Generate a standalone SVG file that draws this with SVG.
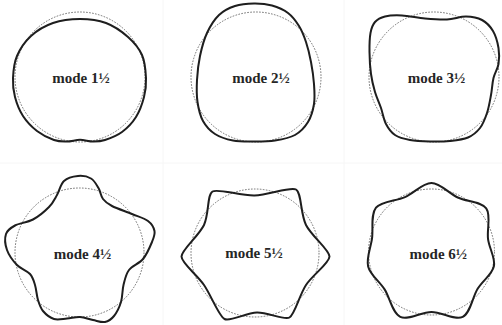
<svg xmlns="http://www.w3.org/2000/svg" width="502" height="325" viewBox="0 0 502 325">
<style>
.grid{stroke:#f6f6f6;stroke-width:1;fill:none}
.ref{fill:none;stroke:#707070;stroke-width:1;stroke-dasharray:1.6 1.4}
.mode{fill:none;stroke:#1e1e1e;stroke-width:2;stroke-linejoin:round}
.lbl{font-family:"Liberation Serif","Times New Roman",serif;font-weight:bold;font-size:15px;fill:#262626;text-anchor:middle}
</style>
<rect width="502" height="325" fill="#ffffff"/>
<g id="grid">
<line class="grid" x1="163" y1="0" x2="163" y2="325"/>
<line class="grid" x1="344" y1="0" x2="344" y2="325"/>
<line class="grid" x1="0" y1="163" x2="502" y2="163"/>
</g>
<g id="mode1">
<circle class="ref" cx="80" cy="77" r="65"/>
<path class="mode" d="M80,19 C88.83,19 98,20 106,23 S122,31.67 128,37 S139,48.17 142,55 S145.67,71 146,78 S145.67,90.5 144,97 S139.67,111.17 136,117 S127.17,128.17 122,132 S109.83,138.42 105,140 S97.17,141.53 93,141.5 S84.33,139.8 80,139.8 S71.33,141.47 67,141.5 S59,141.75 54,140 S42.17,135 37,131 S26.67,121.67 23,116 S16.67,103.33 15,97 S12.67,84.83 13,78 S14,63 17,56 S25,41.5 31,36 S44.83,25.83 53,23 S71.17,19 80,19 Z"/>
<text class="lbl" x="81" y="83">mode 1½</text>
</g>
<g id="mode2">
<circle class="ref" cx="256" cy="77" r="65"/>
<path class="mode" d="M254,3.5 C260.17,3.42 266.33,3.92 272,5.5 S283.5,9.58 288,13 S296,21.17 299,26 S304,36 306,42 S309.67,55 311,62 S313.5,77 314,84 S315,97.67 314,104 S311.17,116.83 308,122 S300.5,131.92 295,135 S281.83,139.42 275,140.5 S261,141.5 254,141.5 S239.5,141.75 233,140.5 S220,137.25 215,134 S205.92,126.33 203,121 S198.5,108.83 197.5,102 S196.58,87.67 197,80 S198.33,63.83 200,56 S203.83,39.83 207,33 S214.33,19.5 219,15 S229.17,7.92 235,6 S247.83,3.58 254,3.5 Z"/>
<text class="lbl" x="261" y="83">mode 2½</text>
</g>
<g id="mode3">
<circle class="ref" cx="434" cy="77" r="65"/>
<path class="mode" d="M375,22 C377.42,19.25 380.5,17.58 385,16.5 S395.33,15.17 402,15.5 S417.5,17.83 425,18.5 S440.17,19.83 447,19.5 S460.17,16.42 466,16.5 S477.5,17.58 482,20 S490.25,26.33 493,31 S497.58,42.5 498.5,48 S499.33,59 498.5,64 S494.75,72.83 493.5,78 S492.08,89.17 491,95 S488.83,107.5 487,113 S483.17,123.92 480,128 S473,135.33 468,137.5 S456.33,140.33 450,141 S436.67,141.67 430,141.5 S415.83,141.08 410,140 S399,137.67 395,135 S388.33,128.5 386,124 S382.83,113.33 381,108 S376.67,97.67 375,92 S371.92,80.67 371,74 S369.58,58.83 369.5,52 S369.58,38 370.5,33 S372.58,24.75 375,22 Z"/>
<text class="lbl" x="436.5" y="83">mode 3½</text>
</g>
<g id="mode4">
<circle class="ref" cx="79.5" cy="252.5" r="64.5"/>
<path class="mode" d="M78,176 C82.5,175.58 87.58,176.5 91,178.5 S96.5,184.58 98.5,188 S100.75,196 103,199 S107.17,203.5 112,206 S126,211.5 132,214 S144.25,218.17 148,221 S153.83,227.5 154.5,231 S153.92,237.33 152,242 S146.83,254.33 143,259 S132.25,265.67 129,270 S124.83,279.67 123.5,285 S122.58,296.83 121,302 S116.67,312.67 114,316 S108.5,321.33 105,322 S97.17,320.83 93,320 S84.33,317.25 80,317 S71.33,318.17 67,318.5 S58,320.25 54,319 S45.67,314.17 43,311 S39.33,304.33 38,300 S36.33,289.33 35,285 S33,277.33 30,274 S20.83,269 17,265 S8.83,255.17 7,250 S4.67,238.08 6,234 S10.5,227.92 15,225.5 S27.33,222.58 33,219.5 S45,211.08 49,207 S54.5,199.33 57,195 S60.5,184.17 64,181 S73.5,176.42 78,176 Z"/>
<text class="lbl" x="82.5" y="259">mode 4½</text>
</g>
<g id="mode5">
<circle class="ref" cx="255" cy="253" r="64"/>
<path class="mode" d="M212.5,191.5 C217.97,188.3 240.58,195.83 254.5,195.5 S290.42,186.3 296,189.5 S300.42,213.83 306,225 S329.5,250 329.5,256.5 S312.67,274.83 306,285 S294.81,314.52 289.5,317.5 S267.83,312.25 257,312.5 S230.24,321.98 224.5,319 S211.17,295.42 204,285 S181.5,263 181.5,256.5 S198.83,235.83 204,225 S207.03,194.7 212.5,191.5 Z"/>
<text class="lbl" x="254" y="258">mode 5½</text>
</g>
<g id="mode6">
<circle class="ref" cx="431.5" cy="252" r="63"/>
<path class="mode" d="M431.5,183 C440.29,183.08 448.63,193.26 457.75,197.49 S481.18,201.42 486.23,208.35 S486.76,229.44 488.04,239.09 S495.63,257.96 493.89,266.24 S482.82,280.35 477.63,288.79 S470.43,313 462.74,316.87 S441.91,312 431.5,312 S408.08,320.64 400.26,316.87 S389.95,297.81 384.59,289.41 S370.22,274.96 368.13,266.46 S370.72,248.22 372.03,238.43 S370.49,214.63 375.99,207.73 S395.78,201.16 405.03,197.04 S422.71,182.92 431.5,183 Z"/>
<text class="lbl" x="438.3" y="259">mode 6½</text>
</g>
</svg>
